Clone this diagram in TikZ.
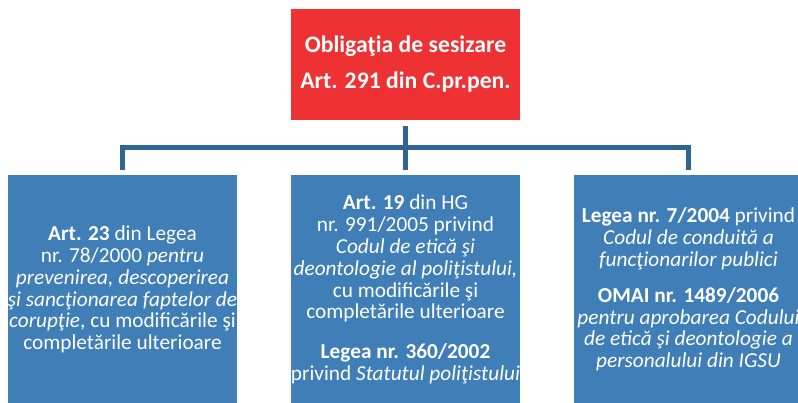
\documentclass[tikz,border=0pt]{standalone}
\usepackage{fontspec}
\setmainfont{Carlito}
\definecolor{redbox}{HTML}{EE3233}
\definecolor{bluebox}{HTML}{3F7EB6}
\definecolor{linkblue}{HTML}{2F6594}
\tikzset{
  parentbox/.style={rectangle, fill=redbox, text=white, minimum width=229pt, minimum height=111pt, inner sep=0pt, align=center, font=\fontsize{23.7}{36}\selectfont\bfseries},
  childbox/.style={rectangle, fill=bluebox, text=white, minimum width=229pt, minimum height=229pt, inner sep=0pt, align=center, font=\fontsize{21.3}{21.8}\selectfont},
  link/.style={draw=linkblue, line width=5pt}
}
\begin{document}
\begin{tikzpicture}[x=1pt,y=-1pt]
\clip (0,0) rectangle (798,403);
\fill[white] (0,0) rectangle (798,403);
\node[parentbox] (par) at (405.5,64.5) {Obligaţia de sesizare\\Art. 291 din C.pr.pen.};
\node[childbox] (c1) at (122.5,289.5) {\textbf{Art. 23} din Legea\\nr. 78/2000 \textit{pentru}\\\textit{prevenirea, descoperirea}\\\textit{şi sancţionarea faptelor de}\\\textit{corupţie}, cu modificările şi\\completările ulterioare};
\node[childbox] (c2) at (405.5,289.5) {\textbf{Art. 19} din HG\\nr. 991/2005 privind\\\textit{Codul de etică şi}\\\textit{deontologie al poliţistului,}\\cu modificările şi\\completările ulterioare\\[18pt]\textbf{Legea nr. 360/2002}\\privind \textit{Statutul poliţistului}};
\node[childbox] (c3) at (688.5,289.5) {\textbf{Legea nr. 7/2004} privind\\\textit{Codul de conduită a}\\\textit{funcţionarilor publici}\\[14pt]\textbf{OMAI nr. 1489/2006}\\\textit{pentru aprobarea Codului}\\\textit{de etică şi deontologie a}\\\textit{personalului din IGSU}};
\coordinate (bus) at (0,147.5);
\draw[link] ([yshift=-6pt]par.south) -- ([yshift=5pt]c2.north);
\draw[link] ([yshift=-6pt]par.south) |- (bus -| c1.north) -- ([yshift=5pt]c1.north);
\draw[link] ([yshift=-6pt]par.south) |- (bus -| c3.north) -- ([yshift=5pt]c3.north);
\end{tikzpicture}
\end{document}
